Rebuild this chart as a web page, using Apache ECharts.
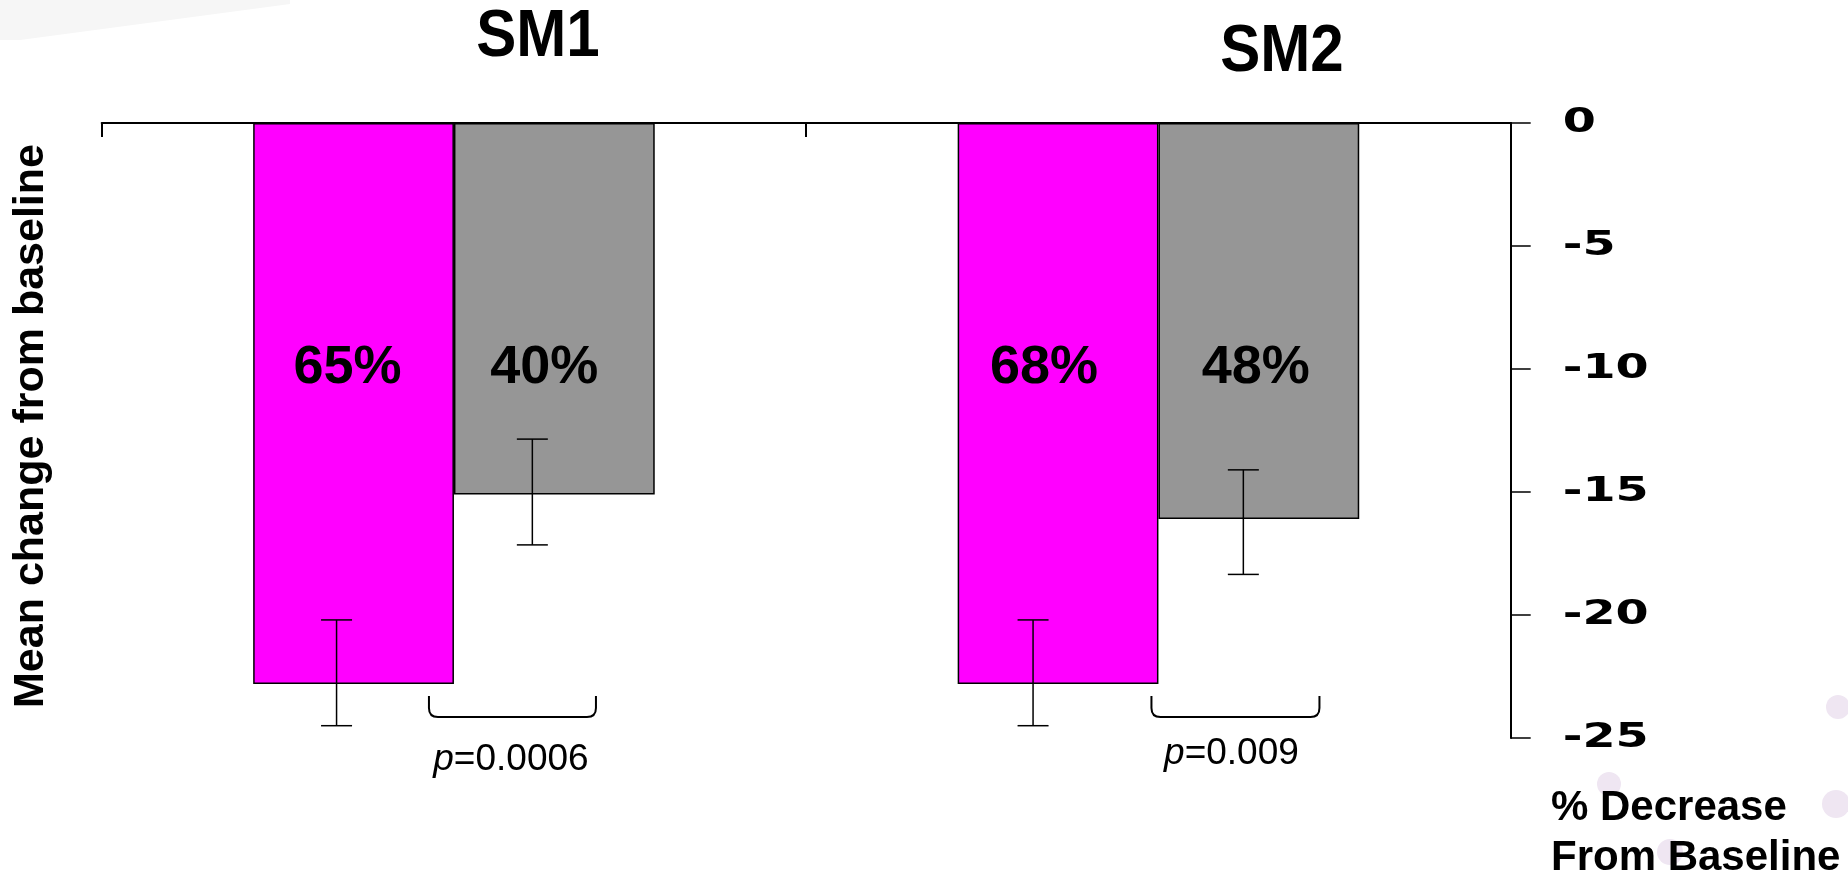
<!DOCTYPE html>
<html lang="en">
<head>
<meta charset="UTF-8">
<style>
html, body { height: 100%; margin: 0; background: #fff; }
</style>
</head>
<body>
<div id="chart" style="width:1848px;height:878px;"></div>
<script src="https://cdn.jsdelivr.net/npm/echarts@6/dist/echarts.min.js"></script>
<script>
// data
var categories = ['SM1', 'SM2'];
var seriesNames = ['Treatment', 'Comparator'];
var treatmentMean = [-22.8, -22.8];
var comparatorMean = [-15.1, -16.1];
// error bar ends: [upper, lower]
var treatmentErr = [[-20.2, -24.5], [-20.2, -24.5]];
var comparatorErr = [[-12.85, -17.15], [-14.1, -18.35]];
var treatmentPct = ['65%', '68%'];
var comparatorPct = ['40%', '48%'];
var pValues = ['0.0006', '0.009'];
var yTicks = [0, -5, -10, -15, -20, -25];

// styling
var BAR_RATIO = 0.285;
var ERR_DX = [[-17, -25], [-22, -15.5]];      // px shift of error bar from bar centre, per series/category
var LABEL_DX = [[-6, -14], [-10, -3]];        // px shift of % labels
var BRACKET_X = [[-25, 142], [-7, 161]];       // px from category centre
var P_DX = [57, 73];
var P_Y = [760, 754];
var BOLD = 'Liberation Sans, Arial, sans-serif';

var errData = [];
for (var i = 0; i < categories.length; i++) {
    errData.push([i, 0, treatmentErr[i][0], treatmentErr[i][1]]);
    errData.push([i, 1, comparatorErr[i][0], comparatorErr[i][1]]);
}
var pData = categories.map(function (c, i) { return [i, 0]; });
var tickData = yTicks.map(function (v) { return [categories.length - 1, v]; });

function barData(values, s) {
    return values.map(function (v, i) {
        return { value: v, label: { offset: [LABEL_DX[s][i], 0] } };
    });
}

var myChart = echarts.init(document.getElementById('chart'));

myChart.setOption({
    animation: false,
    backgroundColor: '#fff',
    grid: { left: 101.7, right: 337.3, top: 123, bottom: 140, containLabel: false },
    xAxis: {
        type: 'category',
        position: 'top',
        data: categories,
        axisLine: { lineStyle: { color: '#000', width: 2 } },
        axisTick: { show: true, inside: true, length: 14, lineStyle: { color: '#000', width: 2 } },
        axisLabel: { show: false },
        splitLine: { show: false }
    },
    yAxis: {
        type: 'value',
        position: 'right',
        min: -25, max: 0, interval: 5,
        axisLine: { show: true, lineStyle: { color: '#000', width: 2 } },
        axisTick: { show: true, inside: false, length: 20, lineStyle: { color: '#000', width: 1.5 } },
        axisLabel: { show: false },
        splitLine: { show: false }
    },
    graphic: [
        // faint background decoration
        { type: 'polygon', z: -10, shape: { points: [[0, 0], [290, 0], [290, 4], [20, 40], [0, 40]] }, style: { fill: '#f6f6f6' } },
        { type: 'circle', z: -10, shape: { cx: 1838, cy: 707, r: 12 }, style: { fill: '#efe6f2' } },
        { type: 'circle', z: -10, shape: { cx: 1609, cy: 784, r: 12 }, style: { fill: '#efe6f2' } },
        { type: 'circle', z: -10, shape: { cx: 1836, cy: 804, r: 14 }, style: { fill: '#efe6f2' } },
        { type: 'circle', z: -10, shape: { cx: 1670, cy: 852, r: 13 }, style: { fill: '#efe6f2' } },
        {
            type: 'text', x: 538, y: 38, scaleX: 0.91,
            style: { text: categories[0], align: 'center', verticalAlign: 'middle', fill: '#000', font: 'bold 66px ' + BOLD }
        },
        {
            type: 'text', x: 1282, y: 53, scaleX: 0.91,
            style: { text: categories[1], align: 'center', verticalAlign: 'middle', fill: '#000', font: 'bold 66px ' + BOLD }
        },
        {
            type: 'text', x: 31, y: 426, rotation: Math.PI / 2,
            style: { text: 'Mean change from baseline', align: 'center', verticalAlign: 'middle', fill: '#000', font: 'bold 43px ' + BOLD }
        },
        {
            type: 'text', x: 1551, y: 808,
            style: { text: '% Decrease', align: 'left', verticalAlign: 'middle', fill: '#000', font: 'bold 42px ' + BOLD }
        },
        {
            type: 'text', x: 1551, y: 858,
            style: { text: 'From Baseline', align: 'left', verticalAlign: 'middle', fill: '#000', font: 'bold 42px ' + BOLD }
        }
    ],
    series: [
        {
            name: seriesNames[0],
            type: 'bar',
            data: barData(treatmentMean, 0),
            barWidth: (BAR_RATIO * 100) + '%',
            barGap: '0%',
            itemStyle: { color: '#ff00ff', borderColor: '#000', borderWidth: 1.5 },
            label: {
                show: true, position: 'insideTop', distance: 218,
                formatter: function (p) { return treatmentPct[p.dataIndex]; },
                color: '#000', fontSize: 54, fontWeight: 'bold', fontFamily: BOLD, lineHeight: 54
            }
        },
        {
            name: seriesNames[1],
            type: 'bar',
            data: barData(comparatorMean, 1),
            barWidth: (BAR_RATIO * 100) + '%',
            barGap: '0%',
            itemStyle: { color: '#969696', borderColor: '#000', borderWidth: 1.5 },
            label: {
                show: true, position: 'insideTop', distance: 218,
                formatter: function (p) { return comparatorPct[p.dataIndex]; },
                color: '#000', fontSize: 54, fontWeight: 'bold', fontFamily: BOLD, lineHeight: 54
            }
        },
        {
            // error bars
            type: 'custom',
            z: 5,
            clip: false,
            data: errData,
            renderItem: function (params, api) {
                var cat = api.value(0), s = api.value(1);
                var barW = api.size([1, 0])[0] * BAR_RATIO;
                var cx = api.coord([cat, 0])[0] + (s === 0 ? -barW / 2 : barW / 2) + ERR_DX[s][cat];
                var y1 = api.coord([cat, api.value(2)])[1];
                var y2 = api.coord([cat, api.value(3)])[1];
                var st = { stroke: '#000', lineWidth: 1.5 };
                return {
                    type: 'group',
                    children: [
                        { type: 'line', shape: { x1: cx, y1: y1, x2: cx, y2: y2 }, style: st },
                        { type: 'line', shape: { x1: cx - 15.5, y1: y1, x2: cx + 15.5, y2: y1 }, style: st },
                        { type: 'line', shape: { x1: cx - 15.5, y1: y2, x2: cx + 15.5, y2: y2 }, style: st }
                    ]
                };
            }
        },
        {
            // significance brackets and p values
            type: 'custom',
            z: 5,
            clip: false,
            data: pData,
            renderItem: function (params, api) {
                var cat = api.value(0);
                var c = api.coord([cat, 0])[0];
                var x1 = c + BRACKET_X[cat][0], x2 = c + BRACKET_X[cat][1];
                var yT = 696, yB = 717, r = 9;
                var d = 'M' + x1 + ' ' + yT + ' L' + x1 + ' ' + (yB - r) +
                    ' Q' + x1 + ' ' + yB + ' ' + (x1 + r) + ' ' + yB +
                    ' L' + (x2 - r) + ' ' + yB +
                    ' Q' + x2 + ' ' + yB + ' ' + x2 + ' ' + (yB - r) +
                    ' L' + x2 + ' ' + yT;
                return {
                    type: 'group',
                    children: [
                        { type: 'path', shape: { pathData: d }, style: { stroke: '#000', lineWidth: 2, fill: null } },
                        {
                            type: 'text', x: c + P_DX[cat], y: P_Y[cat],
                            style: {
                                text: '{i|p}=' + pValues[cat],
                                align: 'center', verticalAlign: 'middle',
                                fill: '#000', font: '37px ' + BOLD,
                                rich: { i: { fontStyle: 'italic', fontSize: 37, fontFamily: BOLD } }
                            }
                        }
                    ]
                };
            }
        },
        {
            // y-axis tick labels (wide bold lettering)
            type: 'custom',
            z: 5,
            clip: false,
            data: tickData,
            renderItem: function (params, api) {
                var p = api.coord([api.value(0), api.value(1)]);
                var xAxisEnd = p[0] + api.size([1, 0])[0] / 2;
                return {
                    type: 'text', x: xAxisEnd + 52, y: p[1], scaleX: 1.4,
                    style: {
                        text: String(api.value(1)), align: 'left', verticalAlign: 'middle',
                        fill: '#000', font: 'bold 34px DejaVu Sans, sans-serif'
                    }
                };
            }
        }
    ]
});
</script>
</body>
</html>
